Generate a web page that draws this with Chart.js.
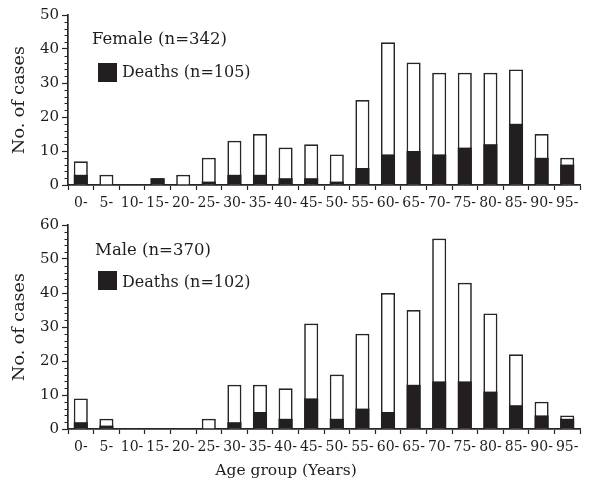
<!DOCTYPE html>
<html>
<head>
<meta charset="utf-8">
<script src="https://cdn.jsdelivr.net/npm/chart.js@4/dist/chart.umd.min.js"></script>
<style>
  html, body { margin: 0; padding: 0; background: #fff; }
  #wrap { position: relative; width: 591px; height: 482px; overflow: hidden; background: #fff; }
  .panel { position: absolute; left: 0; width: 591px; }
  .txt { position: absolute; font-family: 'DejaVu Serif', serif; font-size: 16px; line-height: 16px; color: #1e1e1e; white-space: nowrap; }
  .sq { position: absolute; width: 19px; height: 19px; background: #231f20; }
</style>
</head>
<body>
<div id="wrap">
  <div class="panel" style="top:0;height:212px"><canvas id="c1" width="591" height="212"></canvas></div>
  <div class="panel" style="top:212px;height:270px"><canvas id="c2" width="591" height="270"></canvas></div>

  <div class="txt" style="left:92px;top:31px;font-size:16.5px;line-height:16.5px">Female (n=342)</div>
  <div class="sq" style="left:98px;top:63px"></div>
  <div class="txt" style="left:122px;top:64px">Deaths (n=105)</div>

  <div class="txt" style="left:95px;top:242px;font-size:16.5px;line-height:16.5px">Male (n=370)</div>
  <div class="sq" style="left:98px;top:271px"></div>
  <div class="txt" style="left:122px;top:274px">Deaths (n=102)</div>

  <div class="txt" style="left:0;width:572px;text-align:center;top:463px;font-size:15.5px;line-height:15.5px">Age group (Years)</div>
</div>
<script>
const ageGroups = ['0-','5-','10-','15-','20-','25-','30-','35-','40-','45-','50-','55-','60-','65-','70-','75-','80-','85-','90-','95-'];
const femaleCases  = [7,3,0,2,3,8,13,15,11,12,9,25,42,36,33,33,33,34,15,8];
const femaleDeaths = [3,0,0,2,0,1,3,3,2,2,1,5,9,10,9,11,12,18,8,6];
const maleCases    = [9,3,0,0,0,3,13,13,12,31,16,28,40,35,56,43,34,22,8,4];
const maleDeaths   = [2,1,0,0,0,0,2,5,3,9,3,6,5,13,14,14,11,7,4,3];
const femaleYMax = 50;
const maleYMax = 60;
const majorStep = 10;
const minorStep = 2;

Chart.defaults.font.family = "'DejaVu Serif', serif";
Chart.defaults.color = '#1e1e1e';

const INK = '#262626';

const minorTicks = {
  id: 'minorTicks',
  afterDraw(chart) {
    const y = chart.scales.y;
    const ctx = chart.ctx;
    ctx.save();
    ctx.strokeStyle = INK;
    ctx.lineWidth = 1;
    for (let v = y.min; v <= y.max; v += minorStep) {
      if (v % majorStep === 0) continue;
      const py = Math.round(y.getPixelForValue(v)) + 0.5;
      ctx.beginPath();
      ctx.moveTo(y.right - 3.5, py);
      ctx.lineTo(y.right, py);
      ctx.stroke();
    }
    ctx.restore();
  }
};

function makeChart(id, cases, deaths, yMax, pad, xHeight) {
  return new Chart(document.getElementById(id), {
    type: 'bar',
    data: {
      labels: ageGroups,
      datasets: [
        { label: 'Deaths', data: deaths, backgroundColor: '#231f20', borderWidth: 0,
          barPercentage: 0.55, categoryPercentage: 1 },
        { label: 'Cases', data: cases, backgroundColor: '#ffffff', borderColor: INK, borderWidth: 1.7,
          barPercentage: 0.55, categoryPercentage: 1 }
      ]
    },
    options: {
      responsive: false,
      animation: false,
      devicePixelRatio: 1,
      layout: { padding: { left: 0, right: 11, top: pad.top, bottom: 0 } },
      plugins: { legend: { display: false }, tooltip: { enabled: false }, title: { display: false } },
      scales: {
        x: {
          stacked: true,
          offset: true,
          grid: { display: true, drawOnChartArea: false, drawTicks: true, tickLength: 5, tickColor: INK, tickWidth: 1.2 },
          border: { display: true, color: INK, width: 1.7 },
          ticks: { font: { size: 14 }, color: '#1e1e1e', padding: 5, maxRotation: 0, autoSkip: false },
          afterFit: s => { s.height = xHeight; }
        },
        y: {
          stacked: false,
          min: 0, max: yMax,
          grid: { display: true, drawOnChartArea: false, drawTicks: true, tickLength: 6, tickColor: INK, tickWidth: 1.2 },
          border: { display: true, color: INK, width: 1.7 },
          ticks: { stepSize: majorStep, font: { size: 15 }, color: '#1e1e1e', padding: 3 },
          title: { display: true, text: 'No. of cases', font: { size: 17.5 }, color: '#1e1e1e', padding: { top: 9, bottom: 0 } },
          afterFit: s => { s.width = 68; }
        }
      }
    },
    plugins: [minorTicks]
  });
}

makeChart('c1', femaleCases, femaleDeaths, femaleYMax, { top: 15 }, 27);
makeChart('c2', maleCases, maleDeaths, maleYMax, { top: 13 }, 53);
</script>
</body>
</html>
